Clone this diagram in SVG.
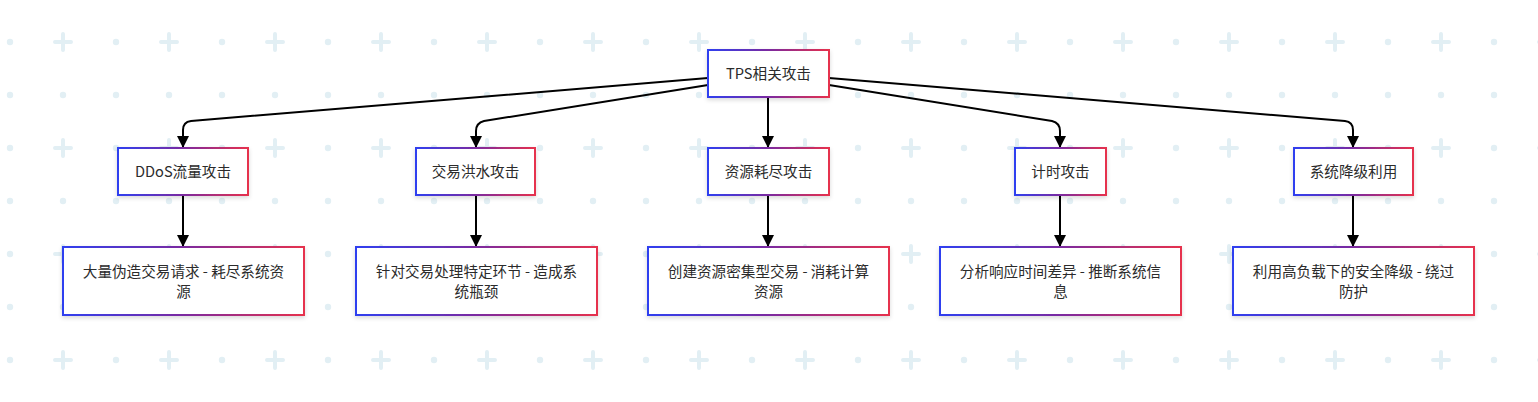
<svg xmlns="http://www.w3.org/2000/svg" width="1538" height="402" viewBox="0 0 1538 402">
<defs>
<pattern id="bg" x="-16" y="16" width="106" height="106" patternUnits="userSpaceOnUse">
<circle cx="26" cy="26" r="3.2" fill="#e2eff4"/>
<circle cx="26" cy="79" r="3.2" fill="#e2eff4"/>
<circle cx="79" cy="79" r="3.2" fill="#e2eff4"/>
<path d="M71 26H87M79 18V34" stroke="#e2eff4" stroke-width="4" stroke-linecap="round"/>
</pattern>
<linearGradient id="grad" x1="0" y1="0" x2="1" y2="0">
<stop offset="0" stop-color="#2f3ff0"/>
<stop offset="0.5" stop-color="#7b2aa0"/>
<stop offset="1" stop-color="#e6304d"/>
</linearGradient>
<filter id="sh" x="-10%" y="-20%" width="120%" height="150%">
<feDropShadow dx="0" dy="2" stdDeviation="2" flood-color="#000" flood-opacity="0.15"/>
</filter>
<marker id="arr" viewBox="0 0 12 12" refX="11" refY="6" markerWidth="12" markerHeight="12" markerUnits="userSpaceOnUse" orient="auto">
<path d="M0 0L12 6L0 12Z" fill="#000"/>
</marker>
</defs>
<style>
.box{fill:#fff;stroke:url(#grad);stroke-width:2;filter:url(#sh)}
.t{font-family:"Noto Sans CJK SC","Liberation Sans",sans-serif;font-size:14.6px;fill:#2b2b2b;text-anchor:middle}
.e{fill:none;stroke:#000;stroke-width:2;marker-end:url(#arr)}
</style>
<rect width="1538" height="402" fill="#fff"/>
<rect width="1538" height="402" fill="url(#bg)"/>
<g id="connectors">
<path class="e" d="M708 78L191 121Q183 122 183 130V147"/>
<path class="e" d="M708 85L484 121Q476 123 476 131V147"/>
<path class="e" d="M768 97V147"/>
<path class="e" d="M829 85L1052 121Q1060 123 1060 131V147"/>
<path class="e" d="M829 78L1345 121Q1353 122 1353 130V147"/>
<path class="e" d="M183 195V246"/>
<path class="e" d="M476 195V246"/>
<path class="e" d="M768 195V246"/>
<path class="e" d="M1060 195V246"/>
<path class="e" d="M1353 195V246"/>
</g>
<g id="n0"><rect class="box" x="708" y="50" width="121" height="47"/><text class="t" x="768.5" y="78.5">TPS相关攻击</text></g>
<g id="n1"><rect class="box" x="118" y="148" width="130" height="47"/><text class="t" x="183" y="176.5">DDoS流量攻击</text></g>
<g id="n2"><rect class="box" x="416" y="148" width="119" height="47"/><text class="t" x="475.5" y="176.5">交易洪水攻击</text></g>
<g id="n3"><rect class="box" x="708" y="148" width="121" height="47"/><text class="t" x="768.5" y="176.5">资源耗尽攻击</text></g>
<g id="n4"><rect class="box" x="1015" y="148" width="91" height="47"/><text class="t" x="1060.5" y="176.5">计时攻击</text></g>
<g id="n5"><rect class="box" x="1294" y="148" width="119" height="47"/><text class="t" x="1353.5" y="176.5">系统降级利用</text></g>
<g id="n6"><rect class="box" x="63" y="247" width="241" height="68"/><text class="t" x="183.5" y="277">大量伪造交易请求 - 耗尽系统资</text><text class="t" x="183.5" y="297">源</text></g>
<g id="n7"><rect class="box" x="356" y="247" width="241" height="68"/><text class="t" x="476.5" y="277">针对交易处理特定环节 - 造成系</text><text class="t" x="476.5" y="297">统瓶颈</text></g>
<g id="n8"><rect class="box" x="648" y="247" width="241" height="68"/><text class="t" x="768.5" y="277">创建资源密集型交易 - 消耗计算</text><text class="t" x="768.5" y="297">资源</text></g>
<g id="n9"><rect class="box" x="940" y="247" width="241" height="68"/><text class="t" x="1060.5" y="277">分析响应时间差异 - 推断系统信</text><text class="t" x="1060.5" y="297">息</text></g>
<g id="n10"><rect class="box" x="1233" y="247" width="241" height="68"/><text class="t" x="1353.5" y="277">利用高负载下的安全降级 - 绕过</text><text class="t" x="1353.5" y="297">防护</text></g>
</svg>
